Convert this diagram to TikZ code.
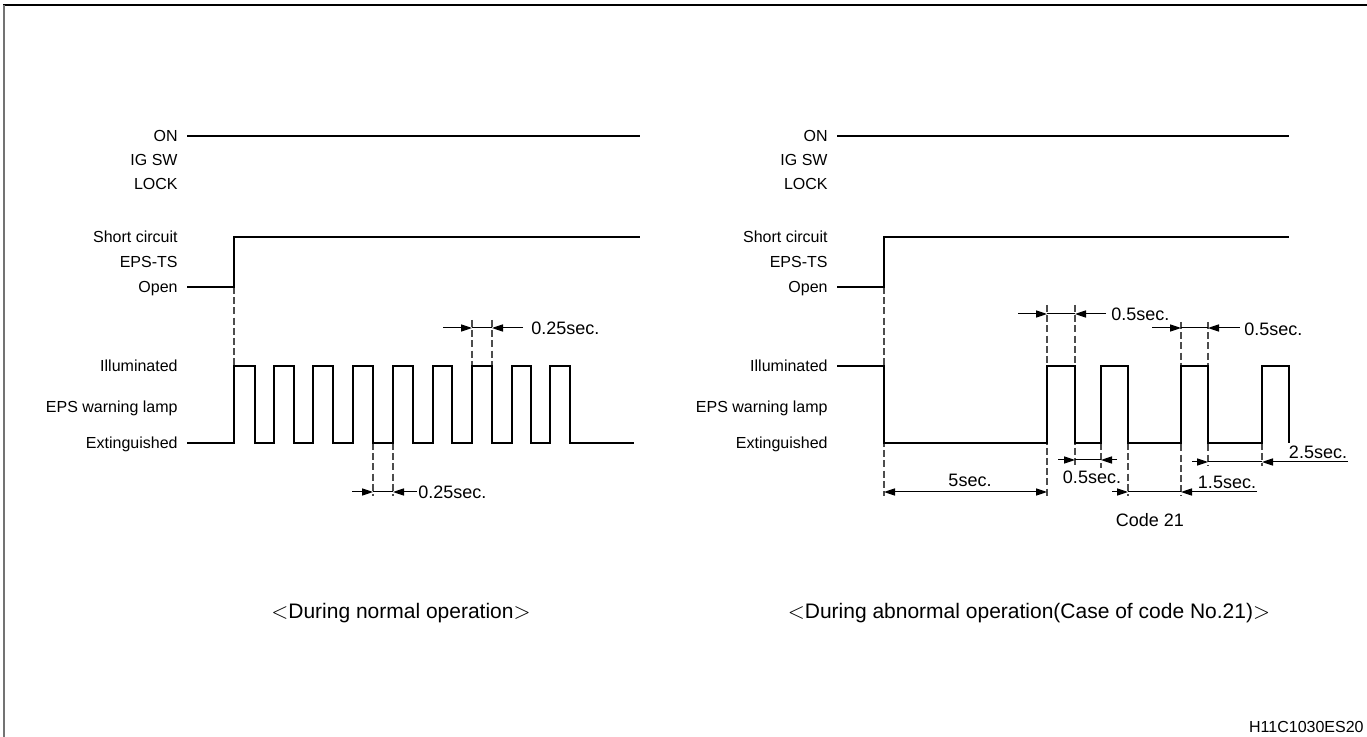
\documentclass[tikz,border=0pt]{standalone}
\usepackage{fontspec}
\setmainfont{Liberation Sans}
\usetikzlibrary{arrows.meta}
\begin{document}
\begin{tikzpicture}[x=0.5pt,y=-0.5pt,
  lbl/.style={font=\fontsize{8pt}{9pt}\selectfont, anchor=base east, inner sep=0},
  dimlbl/.style={font=\fontsize{9pt}{10pt}\selectfont, inner sep=0},
  caplbl/.style={font=\fontsize{10.5pt}{12pt}\selectfont, inner sep=0},
  wave/.style={line width=1.35pt, line join=miter},
  guide/.style={line width=0.6pt, draw=black!70, dash pattern=on 3.5pt off 1.6pt},
  dim/.style={line width=0.5pt},
  dimarrow/.style={line width=0.5pt, -{Triangle[length=5.5pt,width=3.6pt]}},
  dimboth/.style={line width=0.5pt, {Triangle[length=5.5pt,width=3.6pt]}-{Triangle[length=5.5pt,width=3.6pt]}}]
\useasboundingbox (0,0) rectangle (1367,737);
% frame
\draw[line width=0.75pt] (3,5) -- (1367,5);
\draw[line width=0.75pt, draw=black!55] (4,5) -- (4,737);

% ================= LEFT =================
\node[lbl] (lon) at (178,142) {ON};
\node[lbl] (lig) at (178,166) {IG SW};
\node[lbl] (llock) at (178,190) {LOCK};
\node[lbl] (lsc) at (178,243) {Short circuit};
\node[lbl] (lts) at (178,268) {EPS-TS};
\node[lbl] (lopen) at (178,293) {Open};
\node[lbl] (lill) at (178,372) {Illuminated};
\node[lbl] (llamp) at (178,413) {EPS warning lamp};
\node[lbl] (lext) at (178,449) {Extinguished};

% guides
\draw[guide] (234,287) -- (234,366);
\draw[guide] (472,320) -- (472,366);
\draw[guide] (492,320) -- (492,366);
\draw[guide] (373,443) -- (373,496);
\draw[guide] (393,443) -- (393,496);

% waves
\draw[wave] (187,136) -- (640,136);
\draw[wave] (187,287) -- (234,287) -- (234,237) -- (640,237);
\draw[wave] (187,443) -- (234,443)
  -- (234,366) -- (255,366) -- (255,443) -- (274,443)
  -- (274,366) -- (294,366) -- (294,443) -- (313,443)
  -- (313,366) -- (333,366) -- (333,443) -- (353,443)
  -- (353,366) -- (373,366) -- (373,443) -- (393,443)
  -- (393,366) -- (413,366) -- (413,443) -- (433,443)
  -- (433,366) -- (452,366) -- (452,443) -- (472,443)
  -- (472,366) -- (492,366) -- (492,443) -- (512,443)
  -- (512,366) -- (531,366) -- (531,443) -- (550,443)
  -- (550,366) -- (570,366) -- (570,443) -- (634,443);

% dimensions
\draw[dimarrow] (443,328) -- (472,328);
\draw[dim] (472,328) -- (492,328);
\draw[dimarrow] (523,328) -- (492,328);
\node[dimlbl, anchor=west] (ld1) at (531,328) {0.25sec.};
\draw[dimarrow] (352,492) -- (373,492);
\draw[dim] (373,492) -- (393,492);
\draw[dimarrow] (417,492) -- (393,492);
\node[dimlbl, anchor=west] (ld2) at (418,492) {0.25sec.};

\node[caplbl] (lcap) at (401,613) {$<$During normal operation$>$};

% ================= RIGHT =================
\node[lbl] (ron) at (828,142) {ON};
\node[lbl] (rig) at (828,166) {IG SW};
\node[lbl] (rlock) at (828,190) {LOCK};
\node[lbl] (rsc) at (828,243) {Short circuit};
\node[lbl] (rts) at (828,268) {EPS-TS};
\node[lbl] (ropen) at (828,293) {Open};
\node[lbl] (rill) at (828,372) {Illuminated};
\node[lbl] (rlamp) at (828,413) {EPS warning lamp};
\node[lbl] (rext) at (828,449) {Extinguished};

% guides
\draw[guide] (884,287) -- (884,496);
\draw[guide] (1047,305) -- (1047,496);
\draw[guide] (1075,305) -- (1075,468);
\draw[guide] (1101,443) -- (1101,468);
\draw[guide] (1128,443) -- (1128,496);
\draw[guide] (1181,322) -- (1181,496);
\draw[guide] (1208,322) -- (1208,466);
\draw[guide] (1262,443) -- (1262,466);

% waves
\draw[wave] (837,136) -- (1289,136);
\draw[wave] (837,287) -- (884,287) -- (884,237) -- (1289,237);
\draw[wave] (837,366) -- (884,366) -- (884,443) -- (1047,443)
  -- (1047,366) -- (1075,366) -- (1075,443) -- (1101,443)
  -- (1101,366) -- (1128,366) -- (1128,443) -- (1181,443)
  -- (1181,366) -- (1208,366) -- (1208,443) -- (1262,443)
  -- (1262,366) -- (1289,366) -- (1289,443);

% dimensions
\draw[dimarrow] (1018,314) -- (1047,314);
\draw[dim] (1047,314) -- (1075,314);
\draw[dimarrow] (1106,314) -- (1075,314);
\node[dimlbl, anchor=west] (rd1) at (1111,314) {0.5sec.};

\draw[dimarrow] (1152,328) -- (1181,328);
\draw[dim] (1181,328) -- (1208,328);
\draw[dimarrow] (1240,328) -- (1208,328);
\node[dimlbl, anchor=west] (rd2) at (1244,329) {0.5sec.};

\draw[dimarrow] (1058,460) -- (1075,460);
\draw[dim] (1075,460) -- (1101,460);
\draw[dimarrow] (1117,460) -- (1101,460);
\node[dimlbl] (rd3) at (1092,477) {0.5sec.};

\draw[dimboth] (884,492) -- (1047,492);
\node[dimlbl] (rd4) at (970,480) {5sec.};

\draw[dimarrow] (1112,492) -- (1128,492);
\draw[dim] (1128,492) -- (1181,492);
\draw[dimarrow] (1257,492) -- (1181,492);
\node[dimlbl] (rd5) at (1227,482) {1.5sec.};

\draw[dimarrow] (1192,462) -- (1208,462);
\draw[dim] (1208,462) -- (1262,462);
\draw[dimarrow] (1348,462) -- (1262,462);
\node[dimlbl] (rd6) at (1318,452) {2.5sec.};

\node[dimlbl] (code) at (1150,520) {Code 21};

\node[caplbl] (rcap) at (1029,613) {$<$During abnormal operation(Case of code No.21)$>$};

\node[lbl, anchor=east] (foot) at (1364,727) {H11C1030ES20};
\end{tikzpicture}
\end{document}
